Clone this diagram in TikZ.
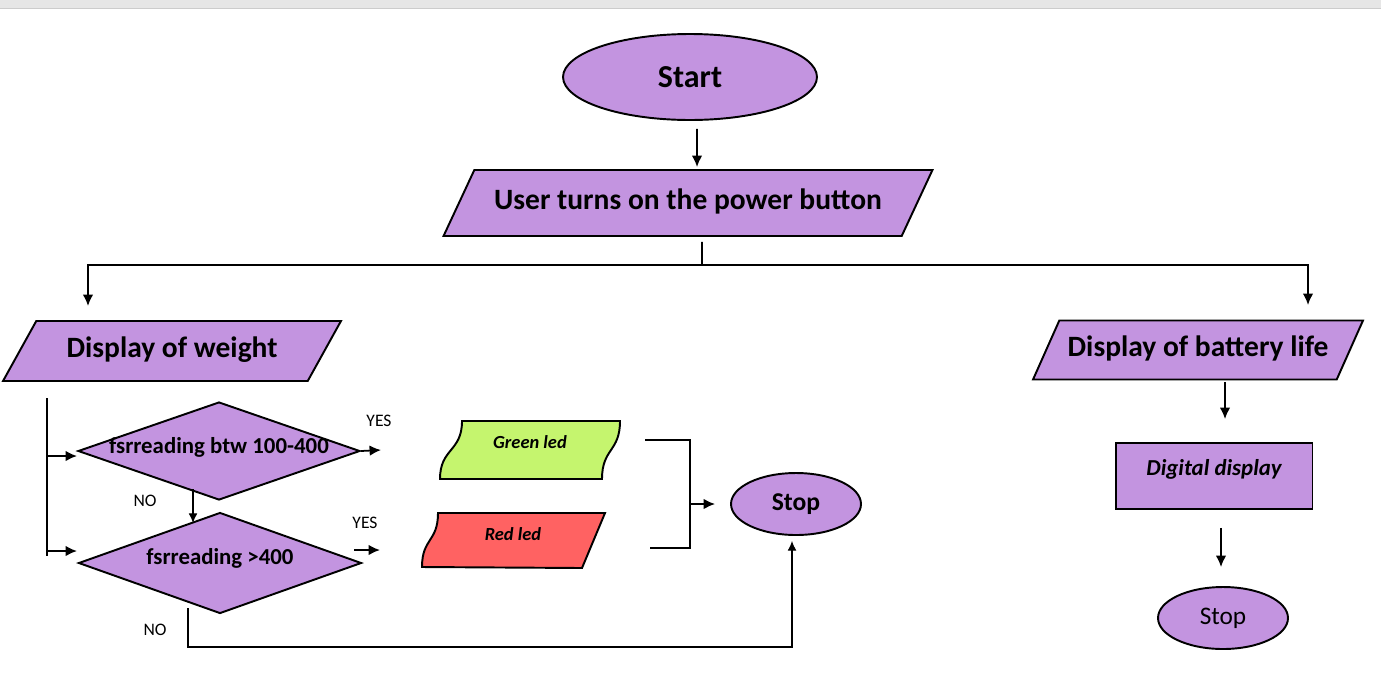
\documentclass[tikz,border=0pt]{standalone}
\usepackage{fontspec}
\setmainfont{Carlito}
\usetikzlibrary{shapes.geometric,arrows.meta,calc}

\definecolor{lilac}{RGB}{195,148,224}
\definecolor{ledgreen}{RGB}{197,245,110}
\definecolor{ledred}{RGB}{255,98,98}
\definecolor{bargrey}{RGB}{230,230,230}

\tikzset{
  term/.style={draw, ellipse, fill=lilac, line width=1.1pt, inner sep=0pt},
  io/.style={draw, trapezium, trapezium stretches body, fill=lilac, line width=1.1pt,
    inner xsep=0pt, text height=11pt, text depth=3.5pt,
    font=\fontsize{16.8}{20}\selectfont\bfseries},
  decision/.style={draw, diamond, fill=lilac, line width=1.1pt, inner sep=0pt},
  procbox/.style={draw, rectangle, fill=lilac, line width=1.1pt, inner sep=0pt},
  ledtext/.style={font=\fontsize{10.5}{12}\selectfont\bfseries\itshape},
  dfont/.style={font=\fontsize{13}{15}\selectfont\bfseries},
  answer/.style={font=\fontsize{10}{12}\selectfont},
  arr/.style={line width=1pt, -{Latex[length=6.5pt,width=6pt]}},
  thinarr/.style={line width=0.6pt, -{Latex[length=5.5pt,width=5pt]}}
}

\begin{document}
\begin{tikzpicture}[x=0.02cm,y=-0.02cm]
  \useasboundingbox (0,0) rectangle (1381,697);
  % window bar
  \fill[bargrey] (0,0) rectangle (1381,8);
  \draw[black!20] (0,8.5) -- (1381,8.5);

  % main column
  \node[term, minimum width=5.08cm, minimum height=1.72cm, font=\fontsize{18.2}{22}\selectfont\bfseries] (start) at (690,77) {Start};
  \node[io, trapezium left angle=65, trapezium right angle=115, minimum width=9.78cm, inner ysep=0.405cm] (power) at (688,203) {User turns on the power button};

  \node[io, trapezium left angle=61, trapezium right angle=119, minimum width=6.76cm, inner ysep=0.345cm] (weight) at (172,351) {Display of weight};
  \node[io, trapezium left angle=66, trapezium right angle=114, minimum width=6.6cm, inner ysep=0.335cm] (battery) at (1198,350) {Display of battery life};

  % decisions
  \node[decision, minimum width=5.64cm, minimum height=1.96cm,
    label={[dfont,yshift=0.08cm]center:fsrreading btw 100-400}] (check1) at (219,451) {};
  \node[decision, minimum width=5.66cm, minimum height=2.02cm,
    label={[dfont,yshift=0.1cm]center:fsrreading >400}] (check2) at (220,563) {};

  % leds
  \fill[ledgreen] (462,421) -- (620,421) .. controls (620,452) and (602,448) .. (602,479) -- (440,479) .. controls (440,448) and (462,452) .. (462,421) -- cycle;
  \draw[line width=1.1pt] (462,421) -- (620,421) .. controls (620,452) and (602,448) .. (602,479) -- (440,479) .. controls (440,448) and (462,452) .. (462,421) -- cycle;
  \node[ledtext] (green) at (530,442) {Green led};
  \fill[ledred] (438,513) -- (605,513) -- (582,568) -- (422,567) .. controls (422,538) and (438,542) .. (438,513) -- cycle;
  \draw[line width=1.1pt] (438,513) -- (605,513) -- (582,568) -- (422,567) .. controls (422,538) and (438,542) .. (438,513) -- cycle;
  \node[ledtext] (red) at (513,534) {Red led};

  \node[term, minimum width=2.6cm, minimum height=1.24cm, font=\fontsize{14.6}{17}\selectfont\bfseries] (stopa) at (796,504) {Stop};

  % battery column
  \node[procbox, minimum width=3.94cm, minimum height=1.32cm,
    label={[font=\fontsize{13}{15}\selectfont\bfseries\itshape,yshift=0.14cm]center:Digital display}] (digital) at (1214,476) {};
  \node[term, minimum width=2.6cm, minimum height=1.24cm, font=\fontsize{14.4}{17}\selectfont] (stopb) at (1223,618) {Stop};

  % answers
  \node[answer] (yesa) at (379,421) {YES};
  \node[answer] (yesb) at (365,523) {YES};
  \node[answer] (noa) at (145,501) {NO};
  \node[answer] (nob) at (155,630) {NO};

  % free ends
  \coordinate (fork) at (702,265);
  \coordinate (tow) at (88,306);
  \coordinate (tob) at (1308,305);
  \coordinate (railtop) at (47,398);
  \coordinate (railbot) at (47,556);
  \coordinate (in1) at (77,456);
  \coordinate (in2) at (77,551);
  \coordinate (yes1) at (381,450);
  \coordinate (yes2) at (380,550);
  \coordinate (no1) at (193,489);
  \coordinate (no2) at (193,523);
  \coordinate (loop) at (188,608);
  \coordinate (floor) at (792,647);
  \coordinate (bt) at (645,440);
  \coordinate (bb) at (650,548);
  \coordinate (bend) at (690,548);

  % connectors
  \draw[arr] ($(start.south)+(7,8)$) -- ($(power.north)+(9,-2)$);
  \draw[line width=1pt] ($(power.south)+(14,5)$) -- (fork);
  \draw[arr] (fork) -| (tow);
  \draw[arr] (fork) -| (tob);

  \draw[line width=1pt] (railtop) -- (railbot);
  \draw[arr] (railtop |- in1) -- (in1);
  \draw[arr] (railtop |- in2) -- (in2);
  \draw[arr] (check1.east) -- (yes1);
  \draw[arr] ($(yes2)+(-26,0)$) -- (yes2);
  \draw[thinarr] (no1) -- (no2);
  \draw[thinarr] (loop) |- (floor) -- ($(stopa.south)+(-4,5)$);

  \draw[line width=1.1pt] (bt) -| (bend) -- (bb);
  \draw[arr, shorten >=0.3cm] (bend |- stopa) -- (stopa.west);

  \draw[arr] ($(battery.south)+(27,2)$) -- ($(digital.north)+(11,-23)$);
  \draw[arr] ($(digital.south)+(7,18)$) -- ($(stopb.north)+(-2,-19)$);
\end{tikzpicture}
\end{document}
